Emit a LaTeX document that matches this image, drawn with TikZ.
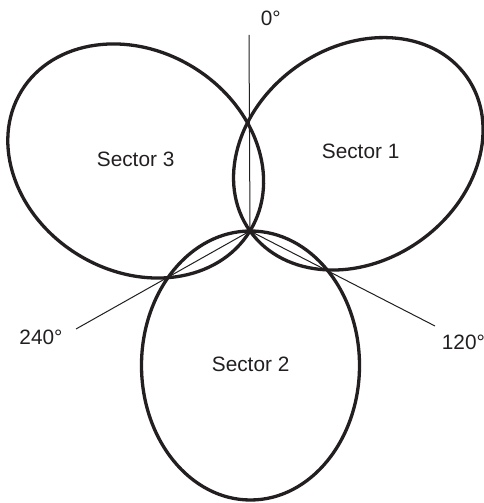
\documentclass[tikz,border=0pt]{standalone}
\usepackage{fontspec}
\setmainfont{Liberation Sans}
\definecolor{ink}{HTML}{231F20}
\begin{document}
\begin{tikzpicture}[x=1pt,y=1pt,
  lobe/.style={draw=ink,line width=3.3pt},
  ray/.style={draw=ink,line width=1pt},
  lbl/.style={anchor=base west,inner sep=0pt,text=ink,font=\fontsize{20.8}{25}\selectfont}]
\useasboundingbox (0,0) rectangle (484,503);
% common origin of the three lobes and the ends of the bearing rays
\coordinate (O) at (250,272);
\coordinate (r0) at (249,468);
\coordinate (r120) at (435,177);
\coordinate (r240) at (76,174);
% antenna lobes
\draw[lobe,rotate around={35.5:(358.3,349.2)}] (358.3,349.2) ellipse (133 and 106.7);
\draw[lobe,rotate around={-31.5:(135.7,342)}] (135.7,342) ellipse (134 and 110);
\draw[lobe] (250.5,137.5) ellipse (109 and 134.5);
% bearing rays
\draw[ray] (O) -- (r0);
\draw[ray] (O) -- (r120);
\draw[ray] (O) -- (r240);
% labels
\node[lbl] (t0) at (260.7,477) {0°};
\node[lbl] (t120) at (441.7,153.7) {120°};
\node[lbl] (t240) at (19.3,158) {240°};
\node[lbl] (s1) at (321.7,344.7) {Sector 1};
\node[lbl] (s2) at (211.7,131.3) {Sector 2};
\node[lbl] (s3) at (96.7,336.3) {Sector 3};
\end{tikzpicture}
\end{document}
